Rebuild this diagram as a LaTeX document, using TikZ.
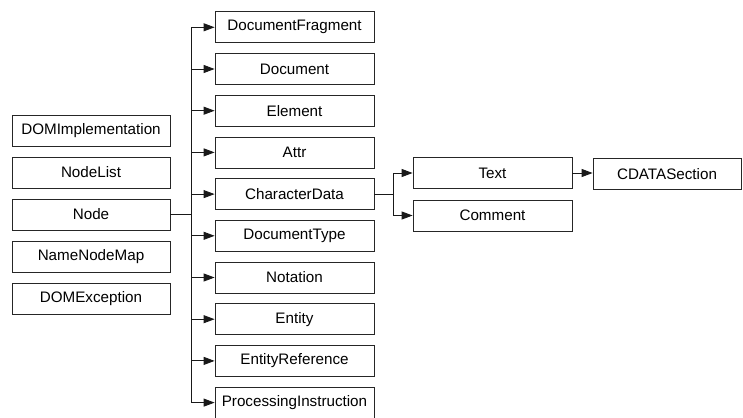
\documentclass[tikz,border=0pt]{standalone}
\usepackage{fontspec}
\setmainfont{Liberation Sans}
\usetikzlibrary{arrows.meta}
\begin{document}
\begin{tikzpicture}[x=1pt,y=-1pt,
  box/.style={draw=black!85, line width=0.8pt, minimum height=31pt, inner sep=0pt,
    font=\fontsize{15.2}{18}\selectfont},
  lbox/.style={box, minimum width=158pt},
  mbox/.style={box, minimum width=159pt},
  conn/.style={draw=black!90, line width=0.9pt},
  arr/.style={conn, -{Triangle[length=11pt,width=8pt]}}]
\useasboundingbox (0,0) rectangle (743,417);
% left column
\node[lbox] (domimpl) at (91,130.5) {DOMImplementation};
\node[lbox] (nodelist) at (91,172.5) {NodeList};
\node[lbox] (node) at (91,214.5) {Node};
\node[lbox] (namemap) at (91,256.5) {NameNodeMap};
\node[lbox] (domexc) at (91,298.5) {DOMException};
% middle column
\node[mbox] (df) at (294.5,27.3) {DocumentFragment};
\node[mbox] (doc) at (294.5,69.0) {Document};
\node[mbox] (elem) at (294.5,110.7) {Element};
\node[mbox] (attr) at (294.5,152.4) {Attr};
\node[mbox] (cdata) at (294.5,194.1) {CharacterData};
\node[mbox] (dtype) at (294.5,235.8) {DocumentType};
\node[mbox] (notation) at (294.5,277.5) {Notation};
\node[mbox] (entity) at (294.5,319.2) {Entity};
\node[mbox] (eref) at (294.5,360.9) {EntityReference};
\node[mbox] (pi) at (294.5,402.6) {ProcessingInstruction};
% right
\node[mbox] (text) at (492.5,173) {Text};
\node[mbox] (comment) at (492.5,215.5) {Comment};
\node[box, minimum width=148pt] (cdsec) at (667,174) {CDATASection};
% trunks
\coordinate (t1) at (191,0);
\coordinate (t2) at (393,0);
\draw[conn] (node.east) -- (t1 |- node.east);
\draw[conn] (t1 |- df.west) -- (t1 |- pi.west);
\foreach \n in {df,doc,elem,attr,cdata,dtype,notation,entity,eref,pi}
  \draw[arr] (t1 |- \n.west) -- (\n.west);
\draw[conn] (cdata.east) -- (t2 |- cdata.east);
\draw[conn] (t2 |- text.west) -- (t2 |- comment.west);
\draw[arr] (t2 |- text.west) -- (text.west);
\draw[arr] (t2 |- comment.west) -- (comment.west);
\draw[arr] (text.east) -- (cdsec.west |- text.east);
\end{tikzpicture}
\end{document}
